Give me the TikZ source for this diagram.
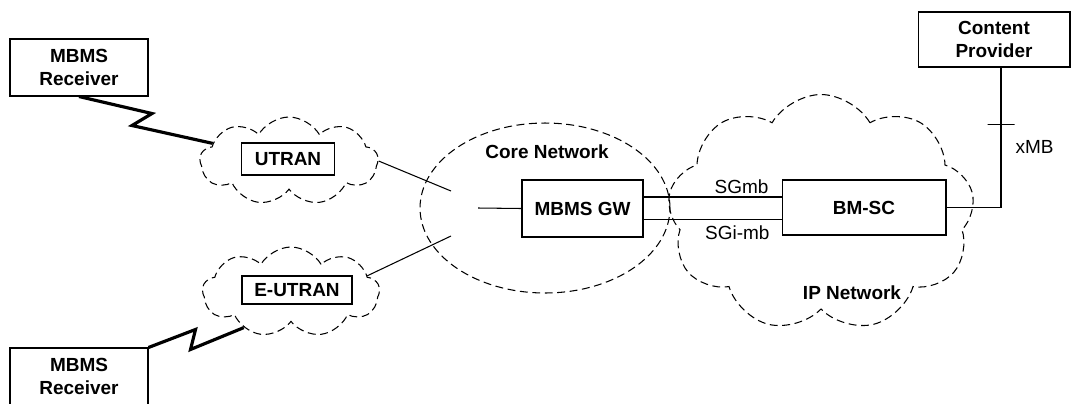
\documentclass[tikz,border=0pt]{standalone}
\usepackage{fontspec}
\setmainfont{Liberation Sans}
\usetikzlibrary{positioning, shapes.geometric, shapes.symbols}
\tikzset{%
	box/.style={draw, rectangle, line width=0.6pt, inner sep=0mm, align=center,%
		font=\fontsize{10.8}{13.5}\selectfont\bfseries},
	title/.style={inner sep=0mm, font=\fontsize{10.8}{13.5}\selectfont\bfseries},
	lbl/.style={font=\fontsize{10.8}{13.5}\selectfont},
	netdash/.style={dash pattern=on 4.5pt off 2.6pt},
	cloudy/.style={draw, cloud, cloud puffs=9, cloud puff arc=120, netdash,%
		line width=0.6pt, inner sep=0mm},
	core/.style={draw, ellipse, netdash, line width=0.6pt, inner sep=0mm},
	link/.style={line width=0.6pt},
	radio/.style={line width=1.8pt, line join=miter},
	tick/.style={draw, line width=0.6pt, minimum width=0.54cm, minimum height=0pt,%
		inner sep=0pt, outer sep=0pt}
}

\begin{document}
\begin{tikzpicture}[x=0.02cm, y=-0.02cm]
	\useasboundingbox (0,0) rectangle (1074,403);

	% radio access networks
	\node[cloudy, minimum width=3.56cm, minimum height=1.76cm] (utrancloud) at (289,161) {};
	\node[cloudy, minimum width=3.54cm, minimum height=1.80cm] (eutrancloud) at (291,292) {};
	\node[box, minimum width=1.86cm, minimum height=0.64cm] (utran) at (288,159) {UTRAN};
	\node[box, minimum width=2.2cm, minimum height=0.56cm] (eutran) at (297,290) {E-UTRAN};

	\node[box, minimum width=2.76cm, minimum height=1.14cm] (recvtop) at (79,67.5) {MBMS\\Receiver};
	\node[box, minimum width=2.76cm, minimum height=1.14cm] (recvbot) at (79,376.5) {MBMS\\Receiver};

	\draw[radio] (recvtop.south) -- ++(73,17) -- ++(-20,12) -- (utrancloud.167);
	\draw[radio] (recvbot.north east) -- ++(47,-18) -- ++(-5,20) -- (eutrancloud.217);

	% core network
	\node[core, minimum width=5cm, minimum height=3.4cm] (corenet) at (545,208) {};
	\node[title] (corelbl) at (547,152) {Core Network};
	\node[box, minimum width=2.42cm, minimum height=1.14cm] (mbmsgw) at (582.5,208.5) {MBMS GW};

	\coordinate (cnu) at (451,191);
	\coordinate (cnm) at (478,208);
	\coordinate (cnl) at (451,236);
	\draw[link] (utrancloud.east) -- (cnu);
	\draw[link] (cnm) -- (mbmsgw.west);
	\draw[link] (eutrancloud.12) -- (cnl);

	% IP network
	\node[cloudy, minimum width=6.14cm, minimum height=4.74cm] (ipcloud) at (821,213) {};
	\node[title] (iplbl) at (852,293) {IP Network};
	\node[box, minimum width=3.28cm, minimum height=1.1cm] (bmsc) at (864,207.5) {BM-SC};
	\node[box, minimum width=3.04cm, minimum height=1.1cm] (provider) at (994,39.5) {Content\\Provider};

	\draw[link] ([yshift=0.23cm]mbmsgw.east) -- node[lbl, pos=0.71, above, inner sep=1.5pt] {SGmb}
		([yshift=0.23cm]mbmsgw.east -| bmsc.west);
	\draw[link] ([yshift=-0.22cm]mbmsgw.east) -- node[lbl, pos=0.68, below, inner sep=3pt] {SGi-mb}
		([yshift=-0.22cm]mbmsgw.east -| bmsc.west);

	\coordinate (xmbtop) at ([xshift=0.14cm]provider.south);
	\draw[link] (xmbtop) |- node[tick, pos=0.204] {} node[lbl, pos=0.285, right=0.28cm, inner sep=0pt] {xMB} (bmsc.east);
\end{tikzpicture}
\end{document}
